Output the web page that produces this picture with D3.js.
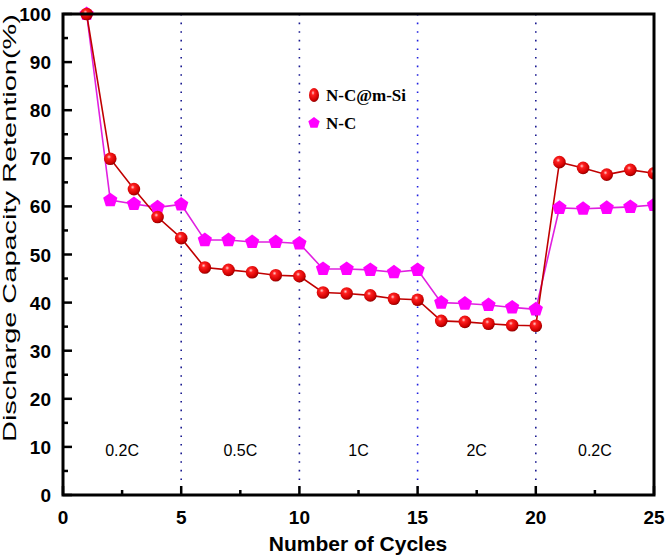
<!DOCTYPE html>
<html><head><meta charset="utf-8">
<script src="https://cdn.jsdelivr.net/npm/d3@7"></script>
<style>body{margin:0;background:#fff}svg{display:block}</style>
</head><body><svg id="c" width="666" height="558"></svg>
<script>
const cycles = d3.range(1, 26);
const ncSi = [100, 69.9, 63.6, 57.8, 53.4, 47.3, 46.8, 46.3, 45.7, 45.5, 42.1, 41.9, 41.5, 40.8, 40.6, 36.2, 36.0, 35.6, 35.3, 35.2, 69.2, 68.0, 66.6, 67.6, 66.9];
const nc = [100, 61.3, 60.5, 59.8, 60.4, 53.0, 53.0, 52.6, 52.6, 52.3, 47.0, 47.0, 46.8, 46.3, 46.8, 40.0, 39.8, 39.5, 39.0, 38.6, 59.7, 59.5, 59.7, 59.9, 60.3];
const rateLabels = ["0.2C", "0.5C", "1C", "2C", "0.2C"];
const ratePos = [2.5, 7.5, 12.5, 17.5, 22.5];
const dividers = [5, 10, 15, 20];
const xTicks = [0, 5, 10, 15, 20, 25];
const yTicks = [0, 10, 20, 30, 40, 50, 60, 70, 80, 90, 100];

const svg = d3.select("#c");
const L = 63, R = 654, T = 14, B = 495;
const x = d3.scaleLinear().domain([0, 25]).range([L, R]);
const y = d3.scaleLinear().domain([0, 100]).range([B, T]);

const defs = svg.append("defs");
const rg = defs.append("radialGradient").attr("id", "ball").attr("cx", "0.4").attr("cy", "0.35").attr("r", "0.65");
rg.append("stop").attr("offset", "0").attr("stop-color", "#ffd0d0");
rg.append("stop").attr("offset", "0.25").attr("stop-color", "#ff2020");
rg.append("stop").attr("offset", "0.8").attr("stop-color", "#d00000");
rg.append("stop").attr("offset", "1").attr("stop-color", "#900000");

// dotted dividers
svg.append("g").selectAll("line").data(dividers).join("line")
  .attr("x1", d => x(d)).attr("x2", d => x(d)).attr("y1", T).attr("y2", B)
  .attr("stroke", d => d === 15 ? "#2020e0" : "#1a1a90").attr("stroke-width", 1.6)
  .attr("stroke-dasharray", "1.6,7");

// rate labels
svg.append("g").selectAll("text").data(rateLabels).join("text")
  .attr("x", (d, i) => x(ratePos[i])).attr("y", 456)
  .attr("text-anchor", "middle").attr("font-family", "Liberation Sans, Arial, sans-serif")
  .attr("font-size", 16).attr("fill", "#000").text(d => d);

// lines
const line = d3.line().x((d, i) => x(cycles[i])).y(d => y(d));
svg.append("path").datum(nc).attr("d", line).attr("fill", "none").attr("stroke", "#e020e0").attr("stroke-width", 1.6);
svg.append("path").datum(ncSi).attr("d", line).attr("fill", "none").attr("stroke", "#c00000").attr("stroke-width", 1.6);

function pentagon(r) {
  const pts = d3.range(5).map(k => {
    const a = -Math.PI / 2 + k * 2 * Math.PI / 5;
    return [r * Math.cos(a), r * Math.sin(a)];
  });
  return "M" + pts.map(p => p.join(",")).join("L") + "Z";
}
svg.append("g").selectAll("path").data(nc).join("path")
  .attr("d", pentagon(7.5))
  .attr("transform", (d, i) => `translate(${x(cycles[i])},${y(d)})`)
  .attr("fill", "#ff00ff");
svg.append("g").selectAll("circle").data(ncSi).join("circle")
  .attr("cx", (d, i) => x(cycles[i])).attr("cy", d => y(d)).attr("r", 6.3)
  .attr("fill", "url(#ball)");

// white mask outside the frame (clip markers)
svg.append("rect").attr("x", R + 1).attr("y", 0).attr("width", 20).attr("height", 558).attr("fill", "#fff");

const ax = svg.append("g");
d3.range(0, 25.01, 2.5).forEach(v => {
  const major = v % 5 === 0;
  ax.append("line").attr("x1", x(v)).attr("x2", x(v)).attr("y1", B).attr("y2", B - (major ? 9 : 5))
    .attr("stroke", "#000").attr("stroke-width", 2.5);
});
d3.range(0, 100.01, 5).forEach(v => {
  const major = v % 10 === 0;
  ax.append("line").attr("x1", L).attr("x2", L + (major ? 9 : 5)).attr("y1", y(v)).attr("y2", y(v))
    .attr("stroke", "#000").attr("stroke-width", 2.5);
});
svg.append("rect").attr("x", L).attr("y", T).attr("width", R - L).attr("height", B - T)
  .attr("fill", "none").attr("stroke", "#000").attr("stroke-width", 3);

const tf = "Liberation Sans, Arial, sans-serif";
svg.append("g").selectAll("text").data(xTicks).join("text")
  .attr("x", d => x(d)).attr("y", 524).attr("text-anchor", "middle")
  .attr("font-family", tf).attr("font-weight", "bold").attr("font-size", 19).text(d => d);
svg.append("g").selectAll("text").data(yTicks).join("text")
  .attr("x", 51).attr("y", d => y(d) + 7).attr("text-anchor", "end")
  .attr("font-family", tf).attr("font-weight", "bold").attr("font-size", 19).text(d => d);

svg.append("text").attr("x", 358).attr("y", 551).attr("text-anchor", "middle")
  .attr("font-family", tf).attr("font-weight", "bold").attr("font-size", 21).text("Number of Cycles");
svg.append("text").attr("transform", "translate(16,228) rotate(-90)").attr("text-anchor", "middle")
  .attr("font-family", tf).attr("font-size", 19)
  .attr("textLength", 428).attr("lengthAdjust", "spacingAndGlyphs")
  .text("Discharge Capacity Retention(%)");

// legend
svg.append("ellipse").attr("cx", 314).attr("cy", 95).attr("rx", 5).attr("ry", 7).attr("fill", "url(#ball)");
svg.append("text").attr("x", 326).attr("y", 101).attr("font-family", "Liberation Serif, Times New Roman, serif")
  .attr("font-weight", "bold").attr("font-size", 17).text("N-C@m-Si");
svg.append("path").attr("d", pentagon(6)).attr("transform", "translate(314,123)").attr("fill", "#ff00ff");
svg.append("text").attr("x", 326).attr("y", 129).attr("font-family", "Liberation Serif, Times New Roman, serif")
  .attr("font-weight", "bold").attr("font-size", 17).text("N-C");
</script></body></html>
